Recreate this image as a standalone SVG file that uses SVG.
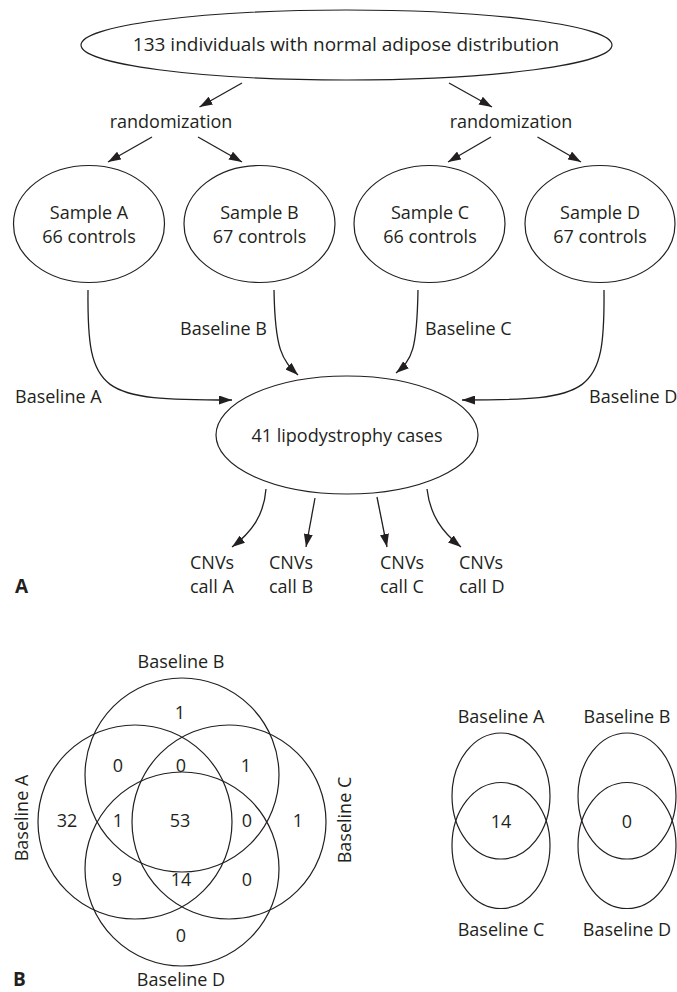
<svg xmlns="http://www.w3.org/2000/svg" width="677" height="992" viewBox="0 0 677 992">
<style>
text{font-family:"Open Sans","Liberation Sans",sans-serif;font-size:18px;fill:#231f20}
.c{text-anchor:middle}
.big{font-size:19px}
.b{font-weight:bold}
.shape{fill:none;stroke:#231f20;stroke-width:1.2}
.con{fill:none;stroke:#231f20;stroke-width:1.3}
</style>
<defs>
<marker id="ah" markerUnits="userSpaceOnUse" markerWidth="13" markerHeight="9" refX="13" refY="4.5" orient="auto" viewBox="0 0 13 9">
<path d="M0,0 L13,4.5 L0,9 z" fill="#231f20"/>
</marker>
</defs>
<rect width="677" height="992" fill="#fff"/>

<g id="top">
<ellipse class="shape" cx="346.5" cy="45" rx="265.5" ry="35"/>
<text class="c big" x="346" y="51">133 individuals with normal adipose distribution</text>
</g>
<g id="rand-left"><text class="c" x="171" y="128">randomization</text></g>
<g id="rand-right"><text class="c" x="511" y="128">randomization</text></g>

<g id="sampleA">
<ellipse class="shape" cx="89" cy="224" rx="75.5" ry="58.5"/>
<text class="c" x="89" y="219">Sample A</text><text class="c" x="89" y="243">66 controls</text>
</g>
<g id="sampleB">
<ellipse class="shape" cx="259.5" cy="224" rx="75.5" ry="58.5"/>
<text class="c" x="259.5" y="219">Sample B</text><text class="c" x="259.5" y="243">67 controls</text>
</g>
<g id="sampleC">
<ellipse class="shape" cx="429.5" cy="224" rx="75.5" ry="58.5"/>
<text class="c" x="430" y="219">Sample C</text><text class="c" x="430" y="243">66 controls</text>
</g>
<g id="sampleD">
<ellipse class="shape" cx="600" cy="224" rx="75" ry="58.5"/>
<text class="c" x="600" y="219">Sample D</text><text class="c" x="600" y="243">67 controls</text>
</g>

<g id="cases">
<ellipse class="shape" cx="347" cy="435" rx="131" ry="59"/>
<text class="c" x="347" y="442">41 lipodystrophy cases</text>
</g>

<g id="callA"><text x="190" y="569">CNVs</text><text x="190" y="593">call A</text></g>
<g id="callB"><text x="269" y="569">CNVs</text><text x="269" y="593">call B</text></g>
<g id="callC"><text x="380" y="569">CNVs</text><text x="380" y="593">call C</text></g>
<g id="callD"><text x="459" y="569">CNVs</text><text x="459" y="593">call D</text></g>

<g id="connectors">
<path class="con" marker-end="url(#ah)" d="M242,83 L199.5,107"/>
<path class="con" marker-end="url(#ah)" d="M449,83 L492,107"/>
<path class="con" marker-end="url(#ah)" d="M152,137 L108,162"/>
<path class="con" marker-end="url(#ah)" d="M198,137 L242,162"/>
<path class="con" marker-end="url(#ah)" d="M491,137 L448,162"/>
<path class="con" marker-end="url(#ah)" d="M537.5,137 L581,162"/>
<path class="con" marker-end="url(#ah)" d="M88,290 C87,395 100,400 232,400"/>
<path class="con" marker-end="url(#ah)" d="M274,290 C275,350 282,360 298,375"/>
<path class="con" marker-end="url(#ah)" d="M418,290 C417,350 412,360 396,373"/>
<path class="con" marker-end="url(#ah)" d="M604,290 C605,395 592,400 462,400"/>
<path class="con" marker-end="url(#ah)" d="M266,489 C264,515 252,532 232,547"/>
<path class="con" marker-end="url(#ah)" d="M315,498 L306,547"/>
<path class="con" marker-end="url(#ah)" d="M377,497 L387,547"/>
<path class="con" marker-end="url(#ah)" d="M427,489 C430,515 442,532 461,547"/>
</g>

<g id="connector-labels">
<text x="15" y="403">Baseline A</text>
<text x="180" y="335">Baseline B</text>
<text x="425" y="335">Baseline C</text>
<text x="589" y="403">Baseline D</text>
</g>

<g id="panelA-label"><text class="b big" x="15" y="593">A</text></g>
<g id="panelB-label"><text class="b big" x="13" y="986">B</text></g>

<g id="venn4">
<circle class="shape" cx="135" cy="822" r="97"/>
<circle class="shape" cx="229" cy="822" r="97"/>
<circle class="shape" cx="182" cy="775" r="97"/>
<circle class="shape" cx="182" cy="869" r="97"/>
<text class="c" x="181" y="668">Baseline B</text>
<text class="c" x="181" y="986">Baseline D</text>
<text class="c" transform="translate(28,818) rotate(-90)">Baseline A</text>
<text class="c" transform="translate(351,820) rotate(-90)">Baseline C</text>
<text class="c" x="180" y="719">1</text>
<text class="c" x="118" y="772">0</text>
<text class="c" x="181" y="772">0</text>
<text class="c" x="246" y="772">1</text>
<text class="c" x="67" y="827">32</text>
<text class="c" x="118" y="827">1</text>
<text class="c" x="180" y="827">53</text>
<text class="c" x="247" y="827">0</text>
<text class="c" x="298" y="827">1</text>
<text class="c" x="117" y="886">9</text>
<text class="c" x="181" y="886">14</text>
<text class="c" x="247" y="886">0</text>
<text class="c" x="181" y="942">0</text>
</g>

<g id="vennAC">
<ellipse class="shape" cx="501" cy="796" rx="49" ry="63"/>
<ellipse class="shape" cx="501" cy="845.5" rx="49" ry="63"/>
<text class="c" x="501" y="723">Baseline A</text>
<text class="c" x="501" y="936">Baseline C</text>
<text class="c" x="501" y="828">14</text>
</g>
<g id="vennBD">
<ellipse class="shape" cx="627" cy="796" rx="49" ry="63"/>
<ellipse class="shape" cx="627" cy="845.5" rx="49" ry="63"/>
<text class="c" x="627" y="723">Baseline B</text>
<text class="c" x="627" y="936">Baseline D</text>
<text class="c" x="627" y="828">0</text>
</g>
</svg>
